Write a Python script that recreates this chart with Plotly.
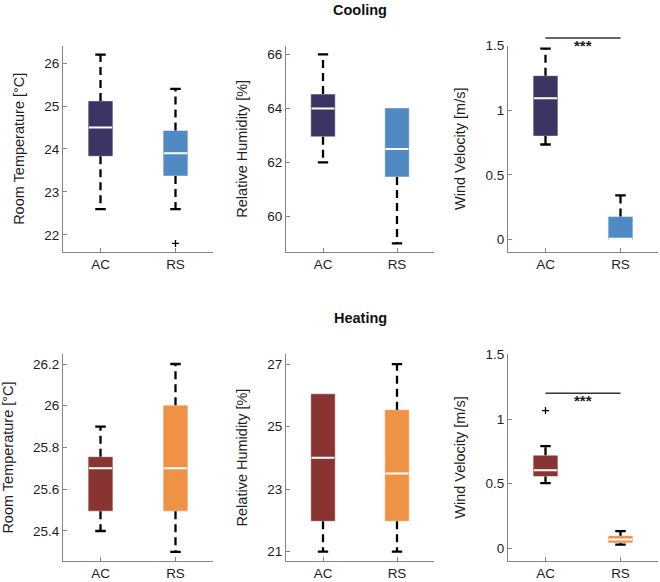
import plotly.graph_objects as go

W, H = 660, 582

categories = ["AC", "RS"]

# Cooling
cool_temp = dict(q1=[23.83, 23.37], med=[24.5, 23.9], q3=[25.12, 24.43], lo=[22.6, 22.6], hi=[26.2, 25.4])
cool_temp_out = [[], [21.8]]
cool_rh = dict(q1=[62.95, 61.46], med=[64.0, 62.5], q3=[64.53, 64.02], lo=[62.0, 59.0], hi=[66.0, 64.02])
cool_rh_out = [[], []]
cool_wind = dict(q1=[0.80, 0.0], med=[1.093, 0.006], q3=[1.267, 0.178], lo=[0.735, 0.0], hi=[1.476, 0.342])
cool_wind_out = [[], []]

# Heating
heat_temp = dict(q1=[25.495, 25.495], med=[25.7, 25.7], q3=[25.756, 26.003], lo=[25.4, 25.3], hi=[25.9, 26.2])
heat_temp_out = [[], []]
heat_rh = dict(q1=[21.97, 21.97], med=[24.0, 23.5], q3=[26.05, 25.54], lo=[21.0, 21.0], hi=[26.05, 27.0])
heat_rh_out = [[], []]
heat_wind = dict(q1=[0.556, 0.042], med=[0.604, 0.069], q3=[0.72, 0.098], lo=[0.505, 0.029], hi=[0.79, 0.133])
heat_wind_out = [[1.066], []]

cool_colors = ["#3c3462", "#4f8ac4"]
heat_colors = ["#8a3333", "#ef9245"]

y_titles = ["Room Temperature [°C]", "Relative Humidity [%]", "Wind Velocity [m/s]"]
row_titles = ["Cooling", "Heating"]

panels = [
    (cool_temp, cool_temp_out, cool_colors, [21.6, 26.41], [22, 23, 24, 25, 26], ["22", "23", "24", "25", "26"], None),
    (cool_rh, cool_rh_out, cool_colors, [58.68, 66.33], [60, 62, 64, 66], ["60", "62", "64", "66"], None),
    (cool_wind, cool_wind_out, cool_colors, [-0.096, 1.5], [0, 0.5, 1, 1.5], ["0", "0.5", "1", "1.5"], 1.558),
    (heat_temp, heat_temp_out, heat_colors, [25.255, 26.249], [25.4, 25.6, 25.8, 26, 26.2], ["25.4", "25.6", "25.8", "26", "26.2"], None),
    (heat_rh, heat_rh_out, heat_colors, [20.69, 27.33], [21, 23, 25, 27], ["21", "23", "25", "27"], None),
    (heat_wind, heat_wind_out, heat_colors, [-0.1, 1.505], [0, 0.5, 1, 1.5], ["0", "0.5", "1", "1.5"], 1.2),
]

col_px = [(63, 213), (286, 434), (508, 658)]
row_px = [(39, 248), (351, 561)]

BOX_W = 0.33
CAP_HALF = 0.07
X_RANGE = [0.5, 2.5]
FONT = "Liberation Sans, Arial, Helvetica, sans-serif"
AXIS_GREY = "#858585"
TXT = "#1e1e1e"

fig = go.Figure()
layout = dict(
    width=W, height=H, margin=dict(l=0, r=0, t=0, b=0),
    paper_bgcolor="white", plot_bgcolor="white", showlegend=False,
    font=dict(family=FONT, size=13, color=TXT),
    annotations=[], shapes=[],
)

pos = [i + 1 for i in range(len(categories))]

for k, (st, outs, colors, yr, tv, tt, sig) in enumerate(panels):
    r, c = divmod(k, 3)
    n = k + 1
    xa = "x" if n == 1 else f"x{n}"
    ya = "y" if n == 1 else f"y{n}"
    x0, x1 = col_px[c]
    y0, y1 = row_px[r]
    layout["xaxis" if n == 1 else f"xaxis{n}"] = dict(
        domain=[x0 / W, x1 / W], anchor=ya, range=X_RANGE,
        tickvals=pos, ticktext=categories, ticks="inside", ticklen=4,
        tickcolor=AXIS_GREY, showline=True, linecolor=AXIS_GREY, linewidth=1,
        showgrid=False, zeroline=False, tickfont=dict(size=13.5, color=TXT),
    )
    layout["yaxis" if n == 1 else f"yaxis{n}"] = dict(
        domain=[1 - y1 / H, 1 - y0 / H], anchor=xa, range=yr,
        tickvals=tv, ticktext=tt, ticks="inside", ticklen=4,
        tickcolor=AXIS_GREY, showline=True, linecolor=AXIS_GREY, linewidth=1,
        showgrid=False, zeroline=False, tickfont=dict(size=13.5, color=TXT),
        title=dict(text=y_titles[c], font=dict(size=14.5, color=TXT), standoff=16),
    )
    # boxes
    fig.add_trace(go.Bar(
        x=pos, y=[q3 - q1 for q1, q3 in zip(st["q1"], st["q3"])], base=st["q1"],
        width=BOX_W, marker=dict(color=colors, line=dict(color="rgba(255,255,255,0.45)", width=1)),
        xaxis=xa, yaxis=ya, hoverinfo="skip",
    ))
    # whiskers (dashed)
    wx, wy = [], []
    for i, p in enumerate(pos):
        if st["hi"][i] > st["q3"][i]:
            wx += [p, p, None]; wy += [st["q3"][i], st["hi"][i], None]
        if st["lo"][i] < st["q1"][i]:
            wx += [p, p, None]; wy += [st["q1"][i], st["lo"][i], None]
    fig.add_trace(go.Scatter(x=wx, y=wy, mode="lines", line=dict(color="black", width=2.3, dash="8px,5px"),
                             xaxis=xa, yaxis=ya, hoverinfo="skip"))
    # caps
    cx, cy = [], []
    for i, p in enumerate(pos):
        if st["hi"][i] > st["q3"][i]:
            cx += [p - CAP_HALF, p + CAP_HALF, None]; cy += [st["hi"][i], st["hi"][i], None]
        if st["lo"][i] < st["q1"][i]:
            cx += [p - CAP_HALF, p + CAP_HALF, None]; cy += [st["lo"][i], st["lo"][i], None]
    fig.add_trace(go.Scatter(x=cx, y=cy, mode="lines", line=dict(color="black", width=2.3),
                             xaxis=xa, yaxis=ya, hoverinfo="skip"))
    # medians
    mx, my = [], []
    for i, p in enumerate(pos):
        mx += [p - BOX_W / 2 + 0.01, p + BOX_W / 2 - 0.01, None]; my += [st["med"][i], st["med"][i], None]
    fig.add_trace(go.Scatter(x=mx, y=my, mode="lines", line=dict(color="white", width=2),
                             xaxis=xa, yaxis=ya, hoverinfo="skip"))
    # outliers
    ox, oy = [], []
    for i, p in enumerate(pos):
        for v in outs[i]:
            ox.append(p); oy.append(v)
    if ox:
        fig.add_trace(go.Scatter(x=ox, y=oy, mode="markers",
                                 marker=dict(symbol="cross-thin", size=5, line=dict(color="black", width=1.3)),
                                 xaxis=xa, yaxis=ya, hoverinfo="skip", cliponaxis=False))
    # significance bar
    if sig is not None:
        fx = [(p - X_RANGE[0]) / (X_RANGE[1] - X_RANGE[0]) for p in pos]
        fy = (sig - yr[0]) / (yr[1] - yr[0])
        layout["shapes"].append(dict(type="line", xref=f"{xa} domain", yref=f"{ya} domain",
                                     x0=fx[0], x1=fx[1], y0=fy, y1=fy,
                                     line=dict(color="#333333", width=1.5)))
        layout["annotations"].append(dict(text="<b>***</b>", xref=f"{xa} domain", yref=f"{ya} domain",
                                          x=(fx[0] + fx[1]) / 2, y=fy, yanchor="top", xanchor="center",
                                          showarrow=False, yshift=3, font=dict(size=15, color=TXT)))

for r, t in enumerate(row_titles):
    ytop = [3, 315][r]
    layout["annotations"].append(dict(text=f"<b>{t}</b>", xref="paper", yref="paper",
                                      x=(col_px[1][0] + col_px[1][1]) / 2 / W, y=1 - ytop / H,
                                      xanchor="center", yanchor="middle", showarrow=False,
                                      font=dict(size=14.5, color="#111111")))

fig.update_layout(**layout)
fig.write_html("out.html", config={"displayModeBar": False},
               post_script="document.body.style.margin='0px';document.body.style.padding='0px';")
